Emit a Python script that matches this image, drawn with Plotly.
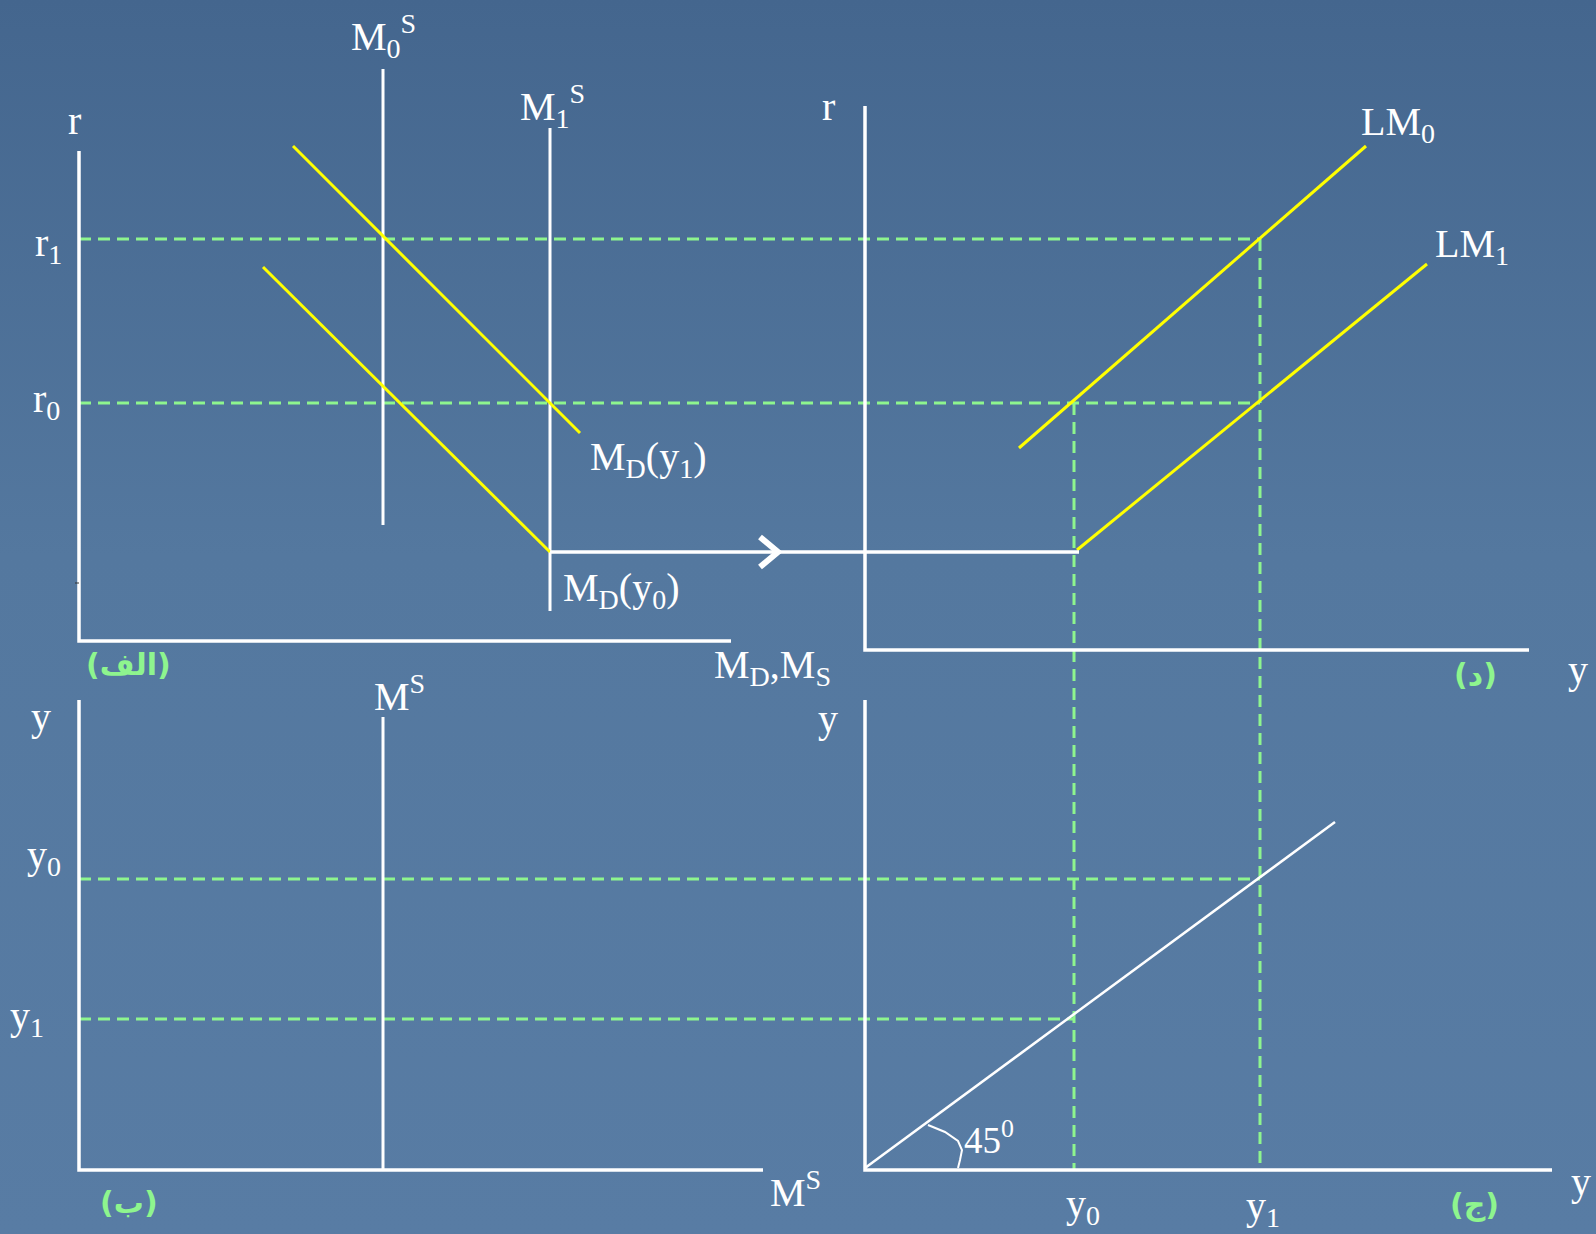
import plotly.graph_objects as go

W, H = 1596, 1234

# ---- diagram geometry (diagram units, y grows downward) ----
# L-shaped axes of the four panels: (x list, y list)
axis_A = ([79, 79, 731], [151, 641, 641])
axis_D = ([865, 865, 1529], [106, 650, 650])
axis_B = ([79, 79, 763], [700, 1170, 1170])
axis_C = ([865, 865, 1552], [700, 1170, 1170])

# interest rate and income levels
r_levels = {"r1": 239, "r0": 403}
y_levels = {"y0": 879, "y1": 1019}
y_income_x = {"y0": 1074, "y1": 1260}

# money supply verticals: (x, y_top, y_bottom)
ms0 = (383, 69, 525)
ms1 = (550, 128, 611)
ms_b = (383, 717, 1170)

# money demand and LM lines: endpoints
md_y1 = ([293, 580], [146, 433])
md_y0 = ([263, 550], [267, 552])
lm0 = ([1019, 1366], [448, 146])
lm1 = ([1077, 1427], [550, 264])

# transfer line and arrowhead
transfer = ([550, 1079], [552, 552])
chevron = ([760, 778, 760], [537, 552, 567])

# 45 degree line and angle arc
line45 = ([865, 1335], [1168, 822])
arc45 = ([928, 945, 958, 962, 960, 958], [1125, 1132, 1141, 1150, 1160, 1168])

GREEN = "#8ef58e"
YELLOW = "#ffff00"
WHITE = "#ffffff"

fig = go.Figure()

# background panel with a soft vertical gradient
fig.add_trace(go.Scatter(
    x=[0, W, W, 0, 0], y=[0, 0, H, H, 0], mode="lines", fill="toself",
    line=dict(width=0),
    fillgradient=dict(type="vertical",
                      colorscale=[[0, "#587ca4"], [0.55, "#54789f"], [1, "#44668e"]]),
    hoverinfo="skip", showlegend=False))


def line(xs, ys, color, width, dash=None):
    fig.add_trace(go.Scatter(
        x=xs, y=ys, mode="lines",
        line=dict(color=color, width=width, dash=dash),
        hoverinfo="skip", showlegend=False))


DASH = "12px,7px"
# dashed guide lines
line([79, 1260], [r_levels["r1"]] * 2, GREEN, 3, DASH)
line([79, 1260], [r_levels["r0"]] * 2, GREEN, 3, DASH)
line([79, 1260], [y_levels["y0"]] * 2, GREEN, 3, DASH)
line([79, y_income_x["y0"]], [y_levels["y1"]] * 2, GREEN, 3, DASH)
line([y_income_x["y0"]] * 2, [r_levels["r0"], 1170], GREEN, 3, DASH)
line([y_income_x["y1"]] * 2, [r_levels["r1"], 1170], GREEN, 3, DASH)

# axes
for ax in (axis_A, axis_D, axis_B, axis_C):
    line(ax[0], ax[1], WHITE, 3.5)
line([75, 79], [583, 583], "#333333", 1)

# money supply
for (x, y0, y1) in (ms0, ms1, ms_b):
    line([x, x], [y0, y1], WHITE, 3)

# demand / LM
for seg in (md_y1, md_y0, lm0, lm1):
    line(seg[0], seg[1], YELLOW, 3)

line(transfer[0], transfer[1], WHITE, 3.5)
line(chevron[0], chevron[1], WHITE, 6)
line(line45[0], line45[1], WHITE, 2.5)
line(arc45[0], arc45[1], WHITE, 2)

SERIF = "Liberation Serif"
ARABIC = "DejaVu Sans"

labels = [
    # text, x, y, xanchor, size
    ("M<sub>0</sub><sup>S</sup>", 383, 36, "center", 40),
    ("M<sub>1</sub><sup>S</sup>", 552, 106, "center", 40),
    ("r", 74, 120, "center", 40),
    ("r<sub>1</sub>", 64, 245, "right", 40),
    ("r<sub>0</sub>", 62, 401, "right", 40),
    ("M<sub>D</sub>(y<sub>1</sub>)", 588, 459, "left", 40),
    ("M<sub>D</sub>(y<sub>0</sub>)", 561, 590, "left", 40),
    ("M<sub>D</sub>,M<sub>S</sub>", 712, 667, "left", 40),
    ("r", 828, 106, "center", 40),
    ("LM<sub>0</sub>", 1359, 124, "left", 40),
    ("LM<sub>1</sub>", 1433, 246, "left", 40),
    ("y", 1578, 669, "center", 40),
    ("y", 41, 716, "center", 40),
    ("M<sup>S</sup>", 372, 693, "left", 40),
    ("y", 828, 718, "center", 40),
    ("y<sub>0</sub>", 63, 857, "right", 40),
    ("y<sub>1</sub>", 46, 1018, "right", 40),
    ("M<sup>S</sup>", 768, 1189, "left", 40),
    ("45<sup>0</sup>", 962, 1137, "left", 37),
    ("y<sub>0</sub>", 1064, 1206, "left", 40),
    ("y<sub>1</sub>", 1244, 1208, "left", 40),
    ("y", 1581, 1181, "center", 40),
]
for text, x, y, xa, size in labels:
    fig.add_annotation(x=x, y=y, text=text, xanchor=xa, yanchor="middle",
                       showarrow=False,
                       font=dict(family=SERIF, size=size, color=WHITE))

panel_names = [
    ("(الف)", 128, 664),
    ("(د)", 1475, 674),
    ("(ب)", 129, 1202),
    ("(ج)", 1474, 1204),
]
for text, x, y in panel_names:
    fig.add_annotation(x=x, y=y, text=text, xanchor="center", yanchor="middle",
                       showarrow=False,
                       font=dict(family=ARABIC, size=30, color=GREEN, weight="bold"))

fig.update_layout(
    width=W, height=H,
    margin=dict(l=0, r=0, t=0, b=0),
    paper_bgcolor="#50739b", plot_bgcolor="#50739b",
    xaxis=dict(range=[0, W], visible=False, fixedrange=True),
    yaxis=dict(range=[H, 0], visible=False, fixedrange=True),
)

fig.write_html("out.html", config={"displayModeBar": False},
               post_script="document.body.style.margin='0';")
